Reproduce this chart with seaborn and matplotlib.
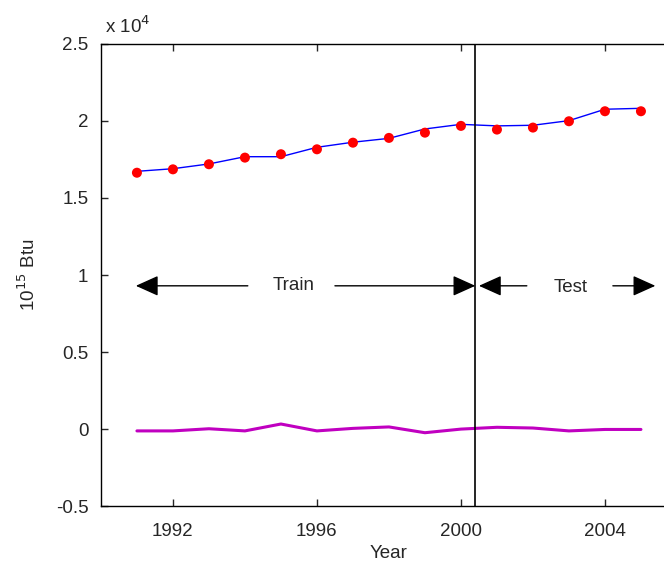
import matplotlib
matplotlib.use("Agg")
import matplotlib.pyplot as plt
import seaborn as sns
import numpy as np
import pandas as pd

# energy consumption, units of 10^4 (x 10^15 Btu)
years = [1991, 1992, 1993, 1994, 1995, 1996, 1997, 1998, 1999, 2000,
         2001, 2002, 2003, 2004, 2005]
actual = [1.664, 1.686, 1.719, 1.762, 1.784, 1.816, 1.859, 1.890, 1.924, 1.968,
          1.944, 1.957, 1.998, 2.063, 2.063]
fitted = [1.673, 1.690, 1.721, 1.768, 1.768, 1.829, 1.862, 1.887, 1.948, 1.978,
          1.968, 1.972, 2.002, 2.076, 2.082]
residual = [-0.0117, -0.0117, 0.0023, -0.0117, 0.0330, -0.0117, 0.0047, 0.0141, -0.0235, 0.0,
            0.0117, 0.0070, -0.0117, -0.0023, -0.0023]
split_year = 2000.4

df = pd.DataFrame({"Year": years, "actual": actual, "fitted": fitted, "residual": residual})

sns.set_style("ticks")
plt.rcParams['font.family'] = ['Liberation Sans', 'DejaVu Sans']

fig = plt.figure(figsize=(6.64, 5.63), dpi=100)
ax = fig.add_axes([0.152, 0.101, 0.8675, 0.821])

sns.lineplot(data=df, x="Year", y="fitted", color="blue", lw=1, ax=ax)
sns.lineplot(data=df, x="Year", y="residual", color="#c000c0", lw=2.2, ax=ax)
sns.scatterplot(data=df, x="Year", y="actual", color="red", s=52, edgecolor="none", ax=ax, zorder=3)

ax.axvline(split_year, color="black", lw=1.2)

# Train / Test arrows
ya = 0.93
arrow = dict(arrowstyle="-|>,head_length=1.0,head_width=0.45", color="black", lw=1,
             mutation_scale=14, shrinkA=0, shrinkB=0)
ax.annotate("", xy=(1990.97, ya), xytext=(1994.08, ya), arrowprops=arrow)
ax.annotate("", xy=(split_year, ya), xytext=(1996.5, ya), arrowprops=arrow)
ax.annotate("", xy=(2000.5, ya), xytext=(2001.83, ya), arrowprops=arrow)
ax.annotate("", xy=(2005.4, ya), xytext=(2004.22, ya), arrowprops=arrow)
ax.text(1995.36, ya, "Train", ha="center", va="center", fontsize=13.5)
ax.text(2003.05, ya - 0.01, "Test", ha="center", va="center", fontsize=13.5)

ax.set_xlim(1990, 2006)
ax.set_ylim(-0.5, 2.5)
ax.set_xticks([1992, 1996, 2000, 2004])
ax.set_yticks([-0.5, 0, 0.5, 1, 1.5, 2, 2.5])
ax.set_yticklabels(["-0.5", "0", "0.5", "1", "1.5", "2", "2.5"])
ax.tick_params(direction="in", length=5, labelsize=13.5, top=True, right=True, width=1)
ax.tick_params(axis="x", pad=12)
ax.tick_params(axis="y", pad=9)
ax.set_xlabel("Year", fontsize=13.5, labelpad=4)
ax.set_ylabel("10$^{15}$ Btu", fontsize=13.5, labelpad=12)
for s in ax.spines.values():
    s.set_linewidth(1)
    s.set_color("black")

fig.text(0.158, 0.935, "x 10$^4$", fontsize=13.5, ha="left", va="bottom")

fig.savefig("out.png", dpi=100)
